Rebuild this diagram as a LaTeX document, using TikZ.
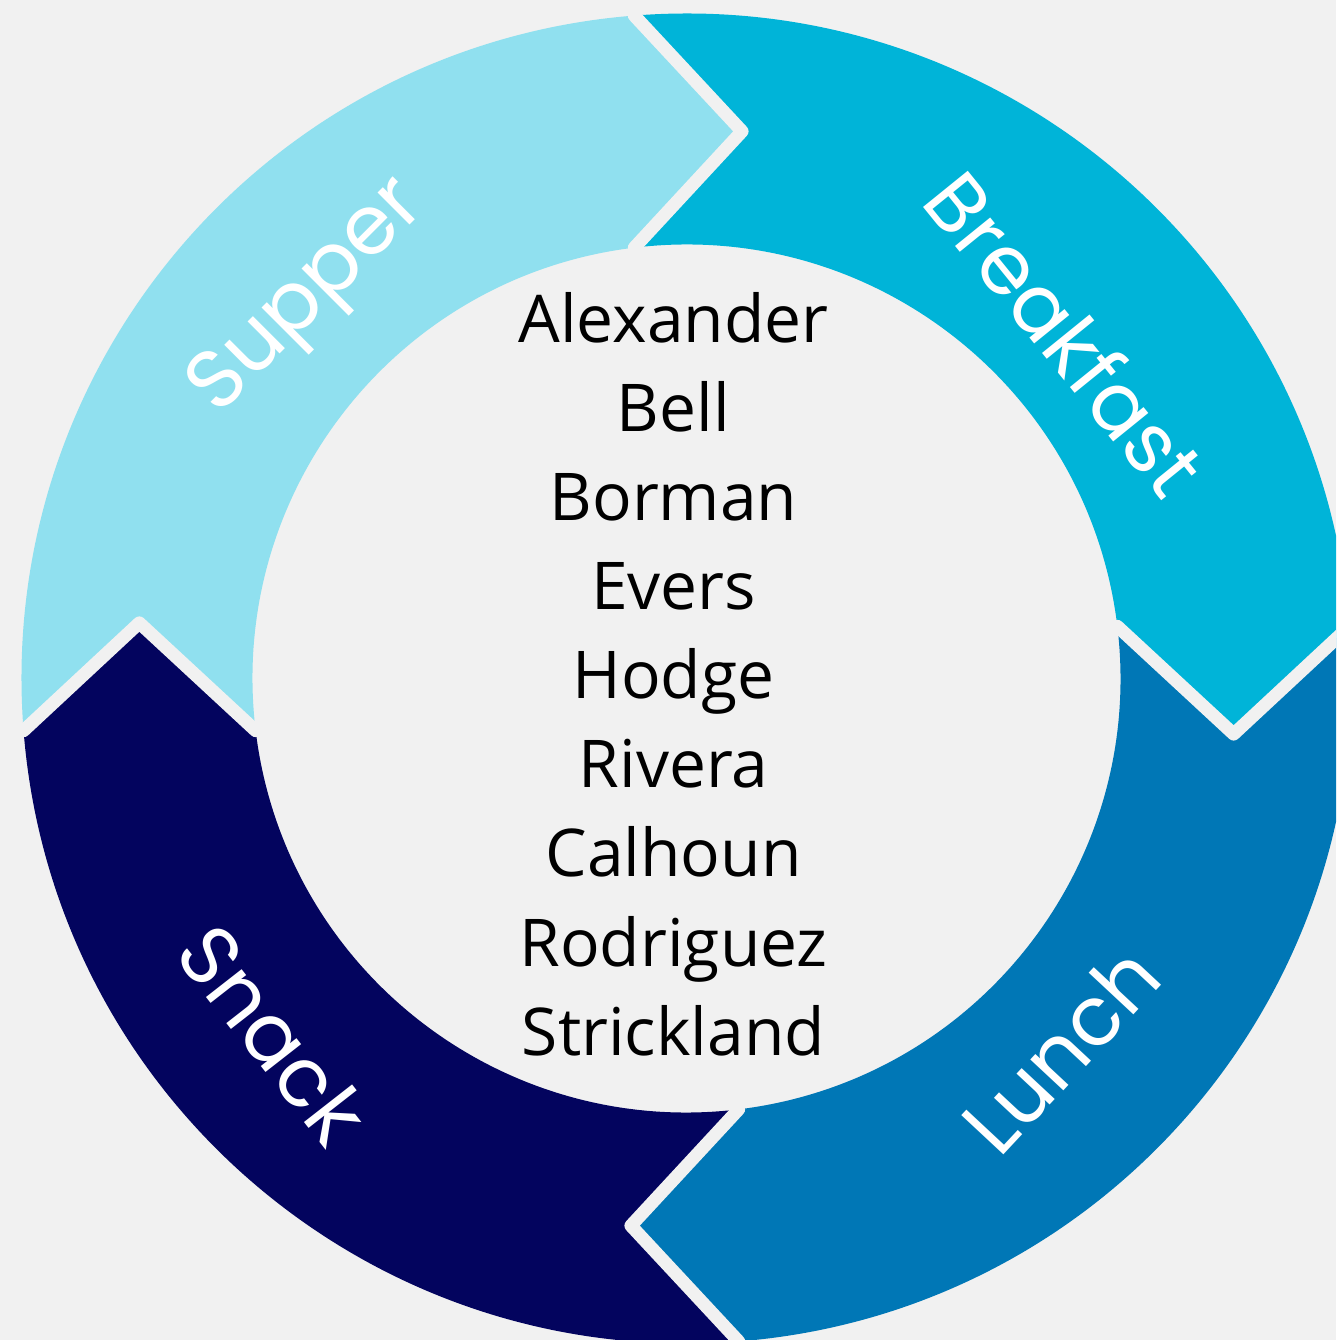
\documentclass[tikz,border=0pt]{standalone}
\usepackage{fontspec}
\newfontfamily\ringfont{Poppins}
\newfontfamily\namefont{Open Sans}
\definecolor{bgcol}{HTML}{F1F1F1}
\definecolor{supper}{HTML}{90E0EF}
\definecolor{breakfast}{HTML}{00B4D8}
\definecolor{lunch}{HTML}{0077B6}
\definecolor{snack}{HTML}{03045E}
\tikzset{
  ringlabel/.style={text=white, font=\ringfont\fontsize{47}{56}\selectfont},
  namelabel/.style={text=black, font=\namefont\fontsize{37.5}{46}\selectfont, anchor=base},
  gap/.style={draw=bgcol, line width=2.6mm, line join=round, line cap=round}
}

\begin{document}
\begin{tikzpicture}[x=0.2mm,y=0.2mm]
	% Background
	\fill[bgcol] (-686.5,-661.5) rectangle (649.5,678.5);
	\useasboundingbox (-686.5,-661.5) rectangle (649.5,678.5);
	\clip (-686.5,-661.5) rectangle (649.5,678.5);
	
	%% Ring of arrows, \h is the angle of each arrow head
	\foreach \col/\h in {supper/84.2, breakfast/-5.8, lunch/-95.8, snack/174.2}{
		\pgfmathsetmacro\t{\h+90}
		\fill[\col] ({\t+10.3}:665) arc[start angle=\t+10.3, end angle=\h+10.3, radius=665]
			-- (\h:550) -- ({\h+12.7}:434)
			arc[start angle=\h+12.7, end angle=\t+12.7, radius=434] -- (\t:550) -- cycle;
	}
	
	%% Gaps between the arrows
	\foreach \h in {84.2, -5.8, -95.8, 174.2}
		\draw[gap] ({\h+10.3}:665) -- (\h:550) -- ({\h+12.7}:434);
	
	%% Labels on the ring
	\node[ringlabel, rotate=-51] (breakfastlabel) at (42.3:513) {Breakfast};
	\node[ringlabel, rotate=45] (supperlabel) at (134.8:535) {Supper};
	\node[ringlabel, rotate=47] (lunchlabel) at (-44.8:527) {Lunch};
	\node[ringlabel, rotate=-52] (snacklabel) at (220.7:545) {Snack};
	
	%% Names in the middle
	\foreach \nm [count=\i from 0] in {Alexander,Bell,Borman,Evers,Hodge,Rivera,Calhoun,Rodriguez,Strickland}
		\node[namelabel] (name\i) at (-13, 335.5-89*\i) {\nm};
\end{tikzpicture}
\end{document}
